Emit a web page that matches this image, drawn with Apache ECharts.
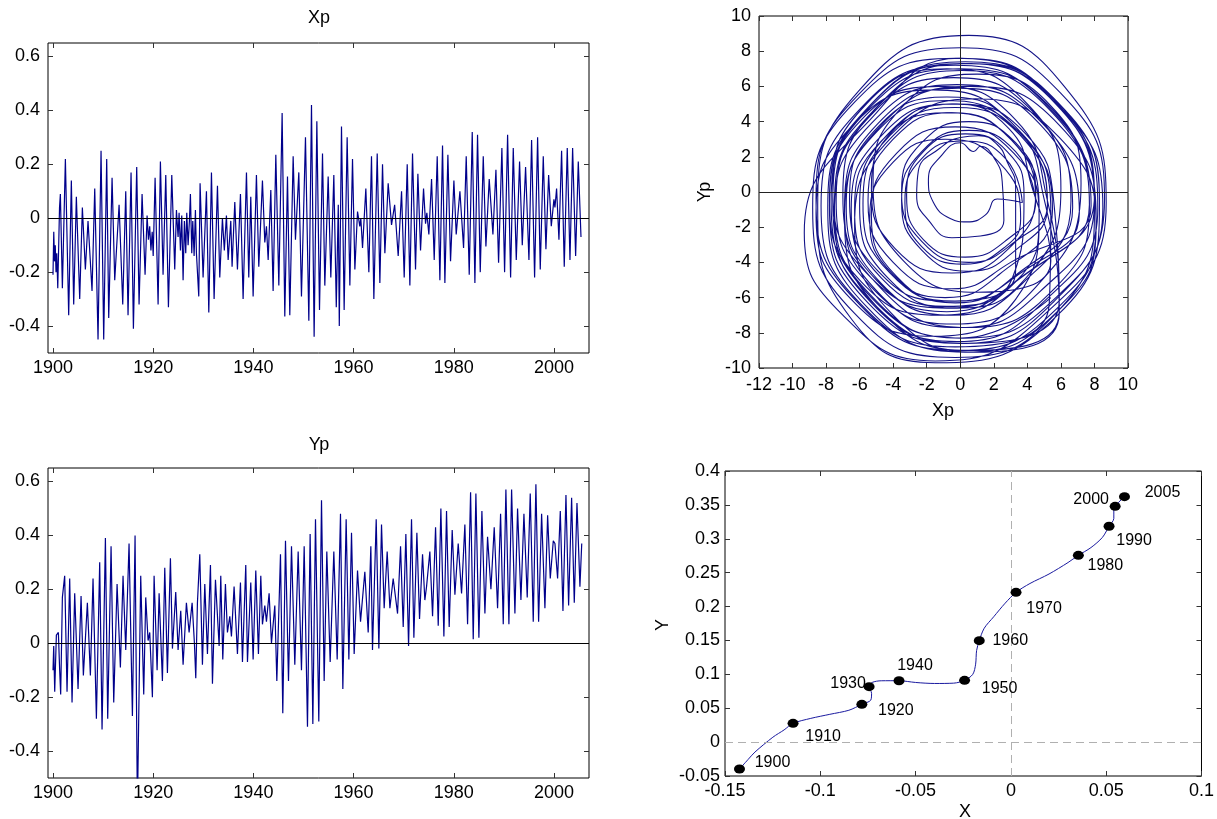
<!DOCTYPE html>
<html><head><meta charset="utf-8">
<script src="https://cdn.jsdelivr.net/npm/echarts@6/dist/echarts.min.js"></script>
<style>html,body{margin:0;padding:0;background:#fff}#c{width:1217px;height:819px}</style>
</head><body><div id="c"></div>
<script>
// ---------- DATA ----------
const yearTicks=[1900,1920,1940,1960,1980,2000];
const tsValueTicks=[-0.4,-0.2,0,0.2,0.4,0.6];

const xpYears=[1900.0,1900.15,1900.3,1900.45,1900.6,1900.75,1900.95,1901.3,1901.47,1901.87,1902.47,1903.13,1903.66,1904.13,1904.66,1905.33,1905.86,1906.46,1906.99,1907.79,1908.33,1908.99,1909.59,1910.12,1910.72,1911.12,1911.79,1912.32,1913.19,1913.92,1914.52,1914.98,1915.58,1916.05,1916.71,1917.18,1917.78,1918.38,1918.78,1919.05,1919.3,1919.55,1919.8,1920.0,1920.38,1920.98,1921.44,1921.97,1922.51,1923.04,1923.71,1924.30,1924.64,1924.97,1925.17,1925.44,1925.70,1925.97,1926.23,1926.50,1926.70,1926.97,1927.23,1927.43,1927.70,1927.90,1928.17,1928.43,1928.63,1929.10,1929.36,1929.96,1930.63,1931.10,1931.63,1932.16,1932.83,1933.29,1933.82,1934.2,
1934.62,1934.96,1935.49,1935.75,1936.29,1936.82,1937.42,1937.95,1938.62,1939.08,1939.48,1939.95,1940.61,1941.08,1941.81,1942.28,1942.61,1942.95,1943.48,1943.94,1944.48,1945.08,1945.74,1946.27,1946.81,1947.27,1947.94,1948.40,1949.07,1949.60,1950.40,1951.07,1951.60,1952.13,1952.67,1953.20,1953.80,1954.26,1954.93,1955.46,1956.06,1956.55,1956.95,1957.15,1957.59,1958.12,1958.72,1959.26,1959.79,1960.26,1960.79,1961.25,1961.45,1961.79,1962.45,1963.05,1963.58,1964.05,1964.72,1965.25,1965.78,1966.25,1966.91,1967.58,1968.2,1968.91,1969.58,1970.11,1970.71,1971.24,1971.77,
1972.37,1972.84,1973.37,1973.97,1974.37,1974.63,1975.03,1975.57,1976.10,1976.70,1977.23,1977.76,1978.23,1978.83,1979.36,1980.03,1980.49,1981.23,1981.96,1982.49,1983.09,1983.69,1984.22,1984.75,1985.29,1985.89,1986.42,1987.08,1987.82,1988.42,1988.95,1989.61,1990.15,1990.75,1991.35,1991.88,1992.48,1993.14,1993.68,1994.34,1995.01,1995.54,1996.14,1996.74,1997.27,1997.87,1998.40,1998.94,1999.47,2000.0,2000.2,2000.53,2001.00,2001.53,2002.06,2002.66,2003.20,2003.73,2004.33,2004.86,2005.4];
const xpValues=[-0.21,-0.05,-0.16,-0.10,-0.20,-0.13,-0.26,0.04,0.09,-0.26,0.22,-0.36,0.14,-0.32,0.08,-0.30,0.04,-0.19,-0.01,-0.27,0.11,-0.45,0.25,-0.45,0.22,-0.37,0.15,-0.23,0.05,-0.32,0.10,-0.36,0.17,-0.41,0.19,-0.32,0.09,-0.21,0.01,-0.08,-0.03,-0.12,-0.05,-0.14,0.15,-0.32,0.21,-0.21,0.16,-0.33,0.16,-0.19,0.03,-0.07,0.02,-0.12,0.01,-0.23,-0.01,-0.13,0.02,-0.10,-0.01,0.09,-0.13,-0.01,-0.14,0.03,-0.13,-0.29,0.13,-0.22,0.10,-0.35,0.17,-0.30,0.12,-0.22,0.00,-0.12,
0.01,-0.155,-0.01,-0.18,0.06,-0.19,0.09,-0.30,0.17,-0.22,0.08,-0.29,0.16,-0.18,0.14,-0.09,-0.03,-0.155,0.105,-0.27,0.235,-0.25,0.39,-0.365,0.155,-0.36,0.23,-0.08,0.17,-0.29,0.30,-0.38,0.42,-0.44,0.36,-0.34,0.24,-0.25,0.155,-0.22,0.16,-0.33,0.05,-0.40,0.34,-0.34,0.30,-0.25,0.22,-0.19,0.025,-0.03,0.0,-0.11,0.11,-0.20,0.23,-0.30,0.24,-0.24,0.20,-0.13,0.13,-0.025,0.05,-0.14,0.10,-0.22,0.20,-0.25,0.24,
-0.19,0.165,-0.12,0.11,-0.02,0.02,-0.06,0.145,-0.155,0.23,-0.23,0.27,-0.24,0.235,-0.16,0.14,-0.06,0.10,-0.11,0.23,-0.21,0.32,-0.24,0.31,-0.20,0.23,-0.105,0.145,-0.06,0.18,-0.165,0.26,-0.20,0.31,-0.22,0.26,-0.155,0.21,-0.10,0.19,-0.155,0.29,-0.22,0.30,-0.19,0.23,-0.115,0.16,-0.03,0.07,0.04,0.11,-0.08,0.25,-0.18,0.26,-0.155,0.26,-0.14,0.21,-0.07];

const ypYears=[1900.0,1900.14,1900.34,1900.67,1901.07,1901.33,1901.53,1901.87,1902.33,1902.80,1903.33,1903.80,1904.33,1905.00,1905.60,1906.06,1906.86,1907.46,1907.99,1908.66,1909.32,1909.79,1910.46,1910.92,1911.59,1912.12,1912.79,1913.45,1913.98,1914.52,1915.18,1915.85,1916.38,1916.85,1917.51,1918.11,1918.51,1918.98,1919.31,1919.84,1920.18,1920.78,1921.18,1921.84,1922.31,1922.84,1923.44,1923.84,1924.50,1924.97,1925.50,1925.97,1926.63,1927.17,1927.77,1928.23,1928.50,1928.83,1929.30,1929.83,1930.30,1930.83,1931.43,1931.83,1932.43,1933.16,1933.49,1933.89,1934.42,
1934.82,1935.29,1935.62,1936.15,1936.82,1937.42,1937.82,1938.48,1938.82,1939.48,1939.95,1940.48,1941.01,1941.48,1941.81,1942.28,1942.61,1943.14,1943.61,1944.28,1944.68,1945.41,1945.87,1946.41,1947.01,1947.61,1948.27,1948.94,1949.60,1950.14,1950.80,1951.33,1951.87,1952.40,1953.06,1953.60,1954.13,1954.66,1955.33,1956.06,1956.73,1957.39,1957.86,1958.52,1959.06,1959.59,1960.12,1960.79,1961.39,1962.25,1962.92,1963.45,1963.78,1964.52,1965.05,1965.58,1966.11,1966.71,1967.25,1967.91,1968.78,1969.38,1969.91,1970.44,1970.98,1971.57,
1972.04,1972.64,1973.17,1973.77,1974.23,1974.57,1975.23,1975.77,1976.37,1976.90,1977.43,1978.03,1978.56,1979.09,1979.69,1980.23,1980.89,1981.56,1982.22,1982.76,1983.36,1983.89,1984.42,1985.02,1985.62,1986.22,1986.75,1987.42,1988.08,1988.75,1989.35,1989.88,1990.41,1991.01,1991.55,1992.21,1992.74,1993.41,1994.01,1994.67,1995.27,1995.87,1996.40,1996.94,1997.54,1998.20,1998.74,1999.27,1999.87,2000.20,2000.73,2001.27,2001.80,2002.40,2002.93,2003.53,2004.06,2004.60,2005.19,2005.55];
const ypValues=[-0.10,-0.01,-0.18,0.03,0.04,-0.10,-0.19,0.17,0.25,-0.18,0.24,-0.22,0.185,-0.17,0.175,-0.12,0.15,-0.12,0.24,-0.28,0.30,-0.32,0.39,-0.28,0.36,-0.22,0.22,-0.09,0.25,-0.025,0.37,-0.27,0.40,-0.62,0.25,-0.19,0.17,0.01,0.04,-0.20,0.25,-0.10,0.185,-0.14,0.28,-0.11,0.315,-0.02,0.19,-0.025,0.12,-0.08,0.15,0.04,0.15,0.0,-0.13,0.15,0.33,-0.08,0.22,-0.04,0.29,-0.15,0.235,-0.01,0.25,-0.06,0.22,
0.04,0.10,0.025,0.21,-0.04,0.225,-0.07,0.29,-0.07,0.225,-0.06,0.27,-0.04,0.25,0.07,0.14,0.08,0.185,0.0,0.14,-0.14,0.33,-0.26,0.38,-0.14,0.36,-0.08,0.34,-0.10,0.36,-0.31,0.405,-0.30,0.46,-0.29,0.53,-0.14,0.34,-0.07,0.34,-0.06,0.48,-0.17,0.46,-0.06,0.41,-0.04,0.27,0.08,0.265,0.04,0.36,-0.025,0.46,-0.02,0.44,0.13,0.34,0.13,0.24,0.11,0.36,0.06,0.405,-0.01,0.46,
0.02,0.41,0.09,0.33,0.16,0.21,0.34,0.10,0.43,0.065,0.50,0.025,0.49,0.06,0.42,0.18,0.37,0.185,0.44,0.07,0.56,0.015,0.555,0.02,0.49,0.11,0.395,0.20,0.43,0.13,0.48,0.07,0.57,0.07,0.57,0.11,0.50,0.16,0.48,0.17,0.555,0.08,0.59,0.08,0.48,0.13,0.475,0.24,0.38,0.37,0.24,0.49,0.12,0.55,0.14,0.54,0.15,0.52,0.21,0.37];

// phase plot (Xp, Yp) read along the loops
const loopsEarly=[[4.5,-0.5],[3.3,2.3],[0.5,3.5],[-2.3,2.3],[-3.5,-0.5],[-2.3,-3.3],[0.5,-4.5],[3.3,-3.3],
[5.2,-0.8],[3.4,3.4],[-0.8,5.2],[-5,3.4],[-6.8,-0.8],[-5,-5],[-0.8,-6.8],[3.4,-5],
[8,-0.2],[5.8,5.1],[0.5,7.3],[-4.8,5],[-7,-0.2],[-4.7,-5.5],[0.5,-7.7],[5.7,-5.4],
[7.7,-0.8],[5.3,4.8],[-0.3,7.2],[-5.9,4.8],[-8.3,-0.8],[-5.9,-6.4],[-0.3,-8.8],[5.3,-6.4],
[5.4,-1.2],[3.3,3.7],[-1.6,5.8],[-6.5,3.7],[-8.6,-1.2],[-6.5,-6.1],[-1.6,-8.2],[3.3,-6.1],
[4.7,-1],[3.1,2.9],[-0.8,4.5],[-4.7,2.9],[-6.3,-1],[-4.7,-4.9],[-0.8,-6.5],[3.1,-4.9],
[3.8,-0.2],[2.8,2.3],[0.3,3.3],[-2.2,2.3],[-3.2,-0.2],[-2.2,-2.7],[0.3,-3.7],[2.8,-2.7],
[4.5,-0.5],[3,3],[-0.5,4.5],[-4,3],[-5.5,-0.5],[-4,-4],[-0.5,-5.5],[3,-4],
[7.8,-0.8],[5.5,4.7],[0,7],[-5.5,4.7],[-7.8,-0.8],[-5.5,-6.3],[0,-8.6],[5.5,-6.3],
[8.6,-0.4],[6,5.6],[0,8.2],[-6,5.6],[-8.6,-0.4],[-6,-6.4],[0,-9],[6,-6.4],
[8.1,-1.5],[5.9,3.8],[0.6,6],[-4.7,3.8],[-6.9,-1.5],[-4.7,-6.8],[0.6,-9],[5.9,-6.8],
[5,-0.4],[3.3,3.7],[-0.8,5.4],[-4.9,3.7],[-6.6,-0.4],[-4.9,-4.5],[-0.8,-6.2],[3.3,-4.5]];
const loopsMid=[[3.3,0.3],[2.8,1.7],[2.2,2.7],[1.1,3.2],[0,3.1],[-1.2,2.5],[-2.5,1.2],[-2.6,-0.2],[-1.9,-1.6],[-0.5,-2.6],[1.2,-2.5],[2.6,-1.6],
[2.5,0.6],[2.1,1.8],[1.2,2.6],[0.8,2.3],[0,2.8],[-1.1,2.1],[-1.9,0.7],[-1.6,-0.6],[-0.6,-1.5],[0.4,-1.7],[1.5,-1.3],[2.2,-0.4],
[3.7,-0.6],[2.7,1.9],[0.2,2.9],[-2.3,1.9],[-3.3,-0.6],[-2.3,-3.1],[0.2,-4.1],[2.7,-3.1],
[3.6,-1.5],[2.3,1.7],[-0.9,3],[-4,1.7],[-5.4,-1.5],[-4,-4.7],[-0.9,-6],[2.3,-4.7],
[5.5,-1],[3.7,3.2],[-0.5,5],[-4.7,3.2],[-6.5,-1],[-4.7,-5.2],[-0.5,-7],[3.7,-5.2],
[6.6,-0.5],[4.5,4.4],[-0.4,6.5],[-5.3,4.4],[-7.4,-0.5],[-5.3,-5.4],[-0.4,-7.5],[4.5,-5.4],
[7.2,0.5],[5.4,4.9],[1,6.7],[-3.4,4.9],[-5.2,0.5],[-3.4,-3.9],[1,-5.7],[5.4,-3.9],
[4.3,0.2],[2.9,3.6],[-0.5,5],[-3.9,3.6],[-5.3,0.2],[-3.9,-3.2],[-0.5,-4.6],[2.9,-3.2],
[4.5,0],[3.3,2.8],[0.5,4],[-2.3,2.8],[-3.5,0],[-2.3,-2.8],[0.5,-4],[3.3,-2.8],
[5.2,-0.7],[3.6,3.2],[-0.3,4.8],[-4.2,3.2],[-5.8,-0.7],[-4.2,-4.6],[-0.3,-6.2],[3.6,-4.6]];
const loopsLate=[[7.1,-1.2],[4.9,3.9],[-0.2,6.1],[-5.3,3.9],[-7.5,-1.2],[-5.3,-6.3],[-0.2,-8.5],[4.9,-6.3],
[8.2,-0.9],[5.7,5.1],[-0.3,7.6],[-6.3,5.1],[-8.8,-0.9],[-6.3,-6.9],[-0.3,-9.4],[5.7,-6.9],
[8,-1],[5.5,5.3],[0,7.6],[-5,4.5],[-9.3,-2.3],[-7,-7],[-1.5,-9.6],[5.2,-6.8],
[8.7,-0.6],[6.2,6],[0.5,8.9],[-6,5.8],[-8.5,-0.8],[-6.5,-7.2],[-1.5,-9.7],[5.8,-7],
[8.3,-0.6],[5.9,5],[0.3,7.4],[-5.3,5],[-7.7,-0.6],[-5.3,-6.2],[0.3,-8.6],[5.9,-6.2],
[5.2,-0.5],[3.3,4.1],[-1.3,6],[-5.9,4.1],[-7.8,-0.5],[-5.9,-5.1],[-1.3,-7],[3.3,-5.1],
[4.7,-1.3],[3.2,2.2],[-0.3,3.7],[-3.8,2.2],[-5.3,-1.3],[-3.8,-4.8],[-0.3,-6.3],[3.2,-4.8],
[6.7,-0.9],[4.7,3.9],[-0.1,5.9],[-4.9,3.9],[-6.9,-0.9],[-4.9,-5.7],[-0.1,-7.7],[4.7,-5.7],
[8,-0.5],[5.7,5],[0.2,7.3],[-5.3,5],[-7.6,-0.5],[-5.3,-6],[0.2,-8.3],[5.7,-6],
[8.5,-0.9],[6,4.8],[0.3,7.3],[-5.5,4.8],[-7.9,-0.9],[-5.5,-6.6],[0.3,-9.1],[6,-6.6],
[8.1,-1.9],[5.9,3.1],[0.9,5.3],[-4.1,3.1],[-6.3,-1.9],[-4.1,-6.9],[0.9,-9.1],[5.9,-6.9],
[5.6,-0.8],[3.9,3.3],[-0.2,5],[-4.3,3.3],[-6,-0.8],[-4.3,-4.9],[-0.2,-6.6],[3.9,-4.9],
[6,0.2],[4,5],[-0.8,7],[-5.6,5],[-7.6,0.2],[-5.6,-4.6],[-0.8,-6.6],[4,-4.6],
[7.7,-0.7],[5.4,4.6],[0.1,6.9],[-5.2,4.6],[-7.5,-0.7],[-5.2,-6],[0.1,-8.3],[5.4,-6]];

// mean pole path (X, Y) and decade markers
const trackX=[-0.1424,-0.138,-0.1343,-0.1249,-0.119,-0.1143,-0.105,-0.095,-0.085,-0.0782,-0.0735,-0.0731,-0.0744,-0.0728,-0.068,-0.0587,-0.05,-0.04,-0.03,-0.0243,-0.02,-0.0185,-0.018,-0.0166,-0.014,-0.009,-0.003,0.0027,0.01,0.02,0.03,0.0354,0.042,0.048,0.0515,0.054,0.054,0.0547,0.058,0.0596];
const trackY=[-0.0397,-0.026,-0.0147,0.0072,0.018,0.0277,0.035,0.041,0.047,0.0557,0.062,0.072,0.0818,0.088,0.0905,0.0906,0.088,0.0865,0.087,0.0911,0.1,0.115,0.135,0.1497,0.168,0.185,0.205,0.221,0.234,0.248,0.265,0.2756,0.287,0.302,0.3184,0.33,0.343,0.3479,0.358,0.3621];
const decadeLabels=['1900','1910','1920','1930','1940','1950','1960','1970','1980','1990','2000','2005'];
const decadeX=[-0.1424,-0.1143,-0.0782,-0.0744,-0.0587,-0.0243,-0.0166,0.0027,0.0354,0.0515,0.0547,0.0596];
const decadeY=[-0.0397,0.0277,0.0557,0.0818,0.0906,0.0911,0.1497,0.221,0.2756,0.3184,0.3479,0.3621];
// label placement (style only)
const labelOffsets=[[33,-6],[30,13],[34,6],[-21,-3],[16,-15],[35,8],[31,0],[28,16],[27,10],[25,14],[-24,-7],[38,-4]];

// ---------- CHART ----------
const FONT='"Liberation Sans", Arial, Helvetica, sans-serif';
const LINE='#00008b';
const chart=echarts.init(document.getElementById('c'),null,{renderer:'canvas'});

const grids=[
 {left:48,top:43,width:541,height:310},
 {left:48,top:468,width:541,height:310},
 {left:759,top:16,width:369,height:352},
 {left:725,top:471,width:479,height:305}
].map(g=>Object.assign(g,{show:true,borderColor:'#000',borderWidth:1,backgroundColor:'transparent',containLabel:false}));

function tick(custom){const t={show:true,inside:true,length:5,lineStyle:{color:'#333',width:1}};if(custom)t.customValues=custom;return t;}
function lab(show,custom,margin,size){const l={show:show,margin:margin,fontSize:size,color:'#000',fontFamily:FONT,formatter:v=>String(+v.toFixed(4))};if(custom)l.customValues=custom;return l;}
function axis(gi,pos,min,max,interval,custom,showLab,margin,size){
  const a={type:'value',gridIndex:gi,position:pos,min:min,max:max,axisLine:{show:false,onZero:false},axisTick:tick(custom),axisLabel:lab(showLab,custom,margin,size),splitLine:{show:false}};
  if(interval)a.interval=interval;
  return a;
}
const xAxes=[
 axis(0,'bottom',1899,2007,null,yearTicks,true,6,18),
 axis(1,'bottom',1899,2007,null,yearTicks,true,6,18),
 axis(2,'bottom',-12,10,2,null,true,8,18),
 axis(3,'bottom',-0.15,0.1,0.05,null,true,6,18),
 axis(0,'top',1899,2007,null,yearTicks,false,6,18),
 axis(1,'top',1899,2007,null,yearTicks,false,6,18),
 axis(2,'top',-12,10,2,null,false,8,18),
 axis(3,'top',-0.15,0.1,0.05,null,false,6,18)
];
const yAxes=[
 axis(0,'left',-0.5,0.65,null,tsValueTicks,true,8,18),
 axis(1,'left',-0.5,0.65,null,tsValueTicks,true,8,18),
 axis(2,'left',-10,10,2,null,true,8,18),
 axis(3,'left',-0.05,0.4,0.05,null,true,5,18),
 axis(0,'right',-0.5,0.65,null,tsValueTicks,false,8,18),
 axis(1,'right',-0.5,0.65,null,tsValueTicks,false,8,18),
 axis(2,'right',-10,10,2,null,false,8,18),
 axis(3,'right',-0.05,0.4,0.05,null,false,5,18)
];

function zeroMarks(list,color,type){
  return {silent:true,symbol:['none','none'],label:{show:false},animation:false,
    lineStyle:{color:color,width:1,type:type},data:list};
}

const xpData=xpYears.map((t,i)=>[t,xpValues[i]]);
const ypData=ypYears.map((t,i)=>[t,ypValues[i]]);
const loopData=loopsEarly.concat(loopsMid,loopsLate);
const trackData=trackX.map((x,i)=>[x,trackY[i]]);
const decadeData=decadeX.map((x,i)=>({value:[x,decadeY[i]],name:decadeLabels[i],
  label:{offset:labelOffsets[i]}}));

const series=[
 {type:'line',xAxisIndex:0,yAxisIndex:0,data:xpData,showSymbol:false,lineStyle:{color:LINE,width:1.2},z:3,
  markLine:zeroMarks([{yAxis:0}],'#000','solid')},
 {type:'line',xAxisIndex:1,yAxisIndex:1,data:ypData,showSymbol:false,lineStyle:{color:LINE,width:1.2},z:3,
  markLine:zeroMarks([{yAxis:0}],'#000','solid')},
 {type:'line',xAxisIndex:2,yAxisIndex:2,data:loopData,showSymbol:false,smooth:0.5,lineStyle:{color:'#141488',width:1.1},z:3,
  markLine:zeroMarks([{yAxis:0},{xAxis:0}],'#222','solid')},
 {type:'line',xAxisIndex:3,yAxisIndex:3,data:trackData,showSymbol:false,smooth:0.3,lineStyle:{color:'#1a1aa0',width:1},z:3,
  markLine:zeroMarks([{yAxis:0},{xAxis:0}],'#b0b0b0',[8,5])},
 {type:'scatter',xAxisIndex:3,yAxisIndex:3,data:decadeData,symbol:'circle',symbolSize:[11,9],
  itemStyle:{color:'#000',opacity:1},z:5,
  label:{show:true,position:'inside',formatter:p=>p.name,color:'#000',opacity:1,fontSize:16,fontFamily:FONT,align:'center',verticalAlign:'middle'}}
];

function txt(t,x,y,rot){return {type:'text',x:x,y:y,rotation:rot||0,style:{text:t,font:'18px '+FONT,fill:'#000',align:'center',verticalAlign:'middle'},silent:true};}
const graphic=[
 txt('Xp',319,18),
 txt('Yp',319,445),
 txt('Xp',943,411),
 txt('Yp',705,192,Math.PI/2),
 txt('X',965,812),
 txt('Y',663,625,Math.PI/2)
];

chart.setOption({animation:false,backgroundColor:'#fff',textStyle:{fontFamily:FONT},grid:grids,xAxis:xAxes,yAxis:yAxes,series:series,graphic:graphic});
</script>
</body></html>
